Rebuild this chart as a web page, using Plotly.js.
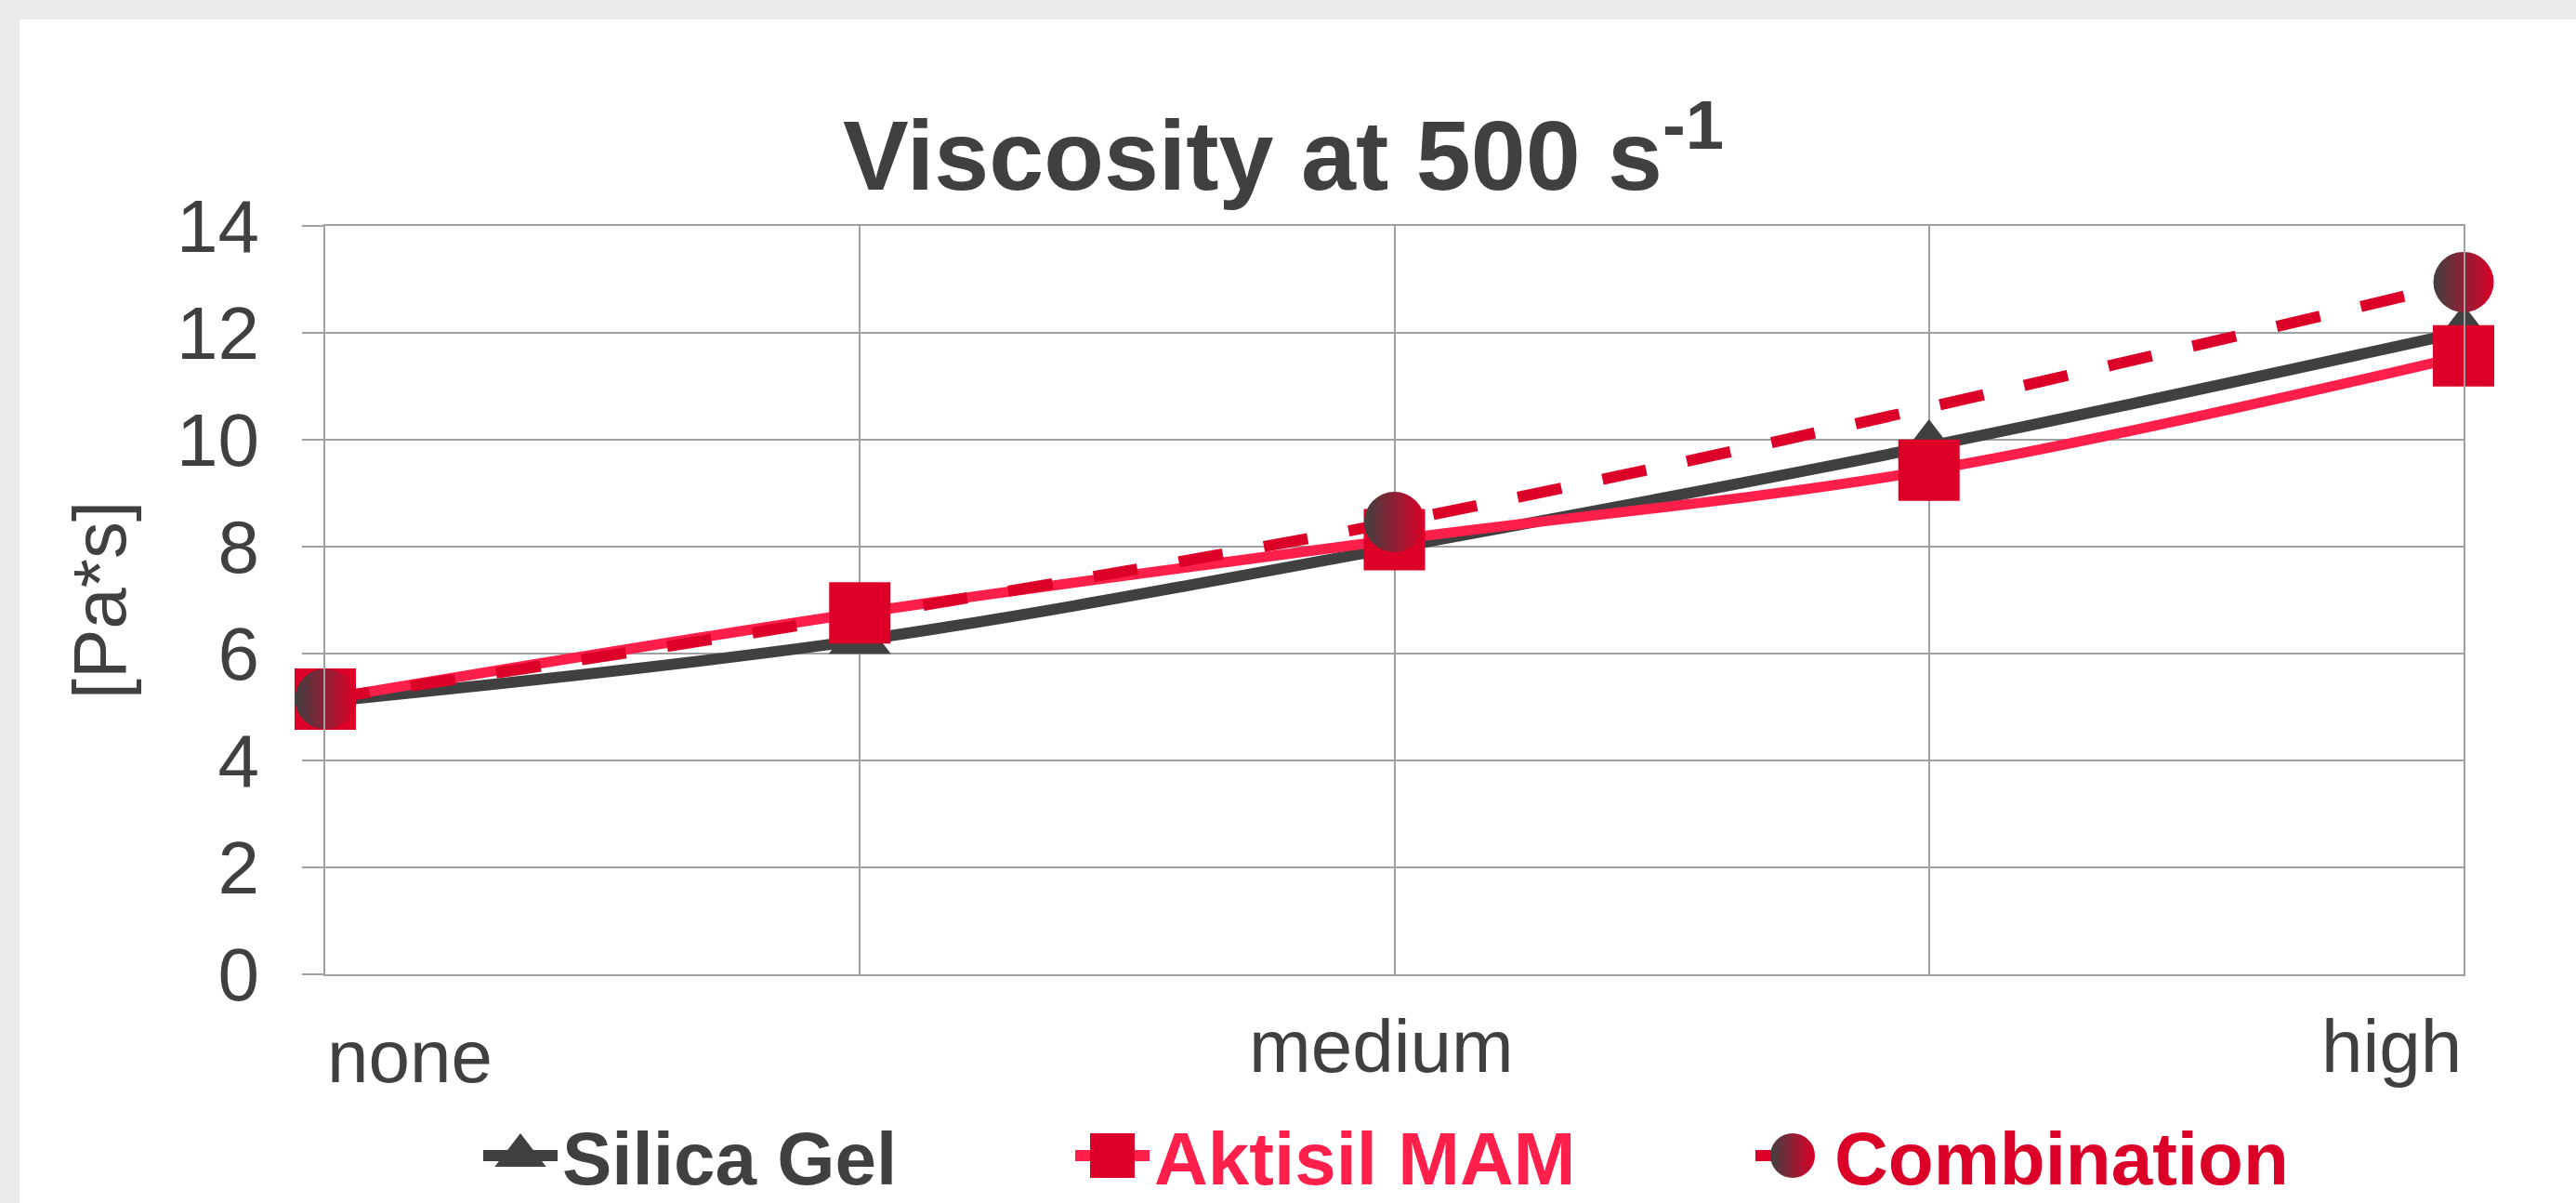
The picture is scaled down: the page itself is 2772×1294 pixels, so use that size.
<!DOCTYPE html>
<html><head><meta charset="utf-8">
<script src="https://cdn.plot.ly/plotly-3.0.1.min.js"></script>
<style>
html,body{margin:0;padding:0;background:#ebebeb;width:2772px;height:1294px;overflow:hidden}
#chart{position:absolute;left:21px;top:21px;width:2751px;height:1273px;background:#fff}
</style></head><body><div id="chart"></div>
<script>
// ---- data ----
const categories = ['none', '', 'medium', '', 'high'];
const xIndex = [0, 1, 2, 3, 4];
const silicaGel = [5.1, 6.25, 7.98, 9.88, 12.02];
const aktisilMAM = [5.15, 6.76, 8.13, 9.43, 11.57];
const combination = [5.15, null, 8.46, null, 12.95];
const yTicks = [0, 2, 4, 6, 8, 10, 12, 14];
const seriesNames = ['Silica Gel', 'Aktisil MAM', 'Combination'];

// ---- styles ----
const FONT = 'Liberation Sans, Arial, sans-serif';
const DARK = '#404040', PINK = '#ff1f4b', RED = '#dc0028', GRID = '#a0a0a0';

const data = [
  {x: xIndex, y: silicaGel, name: seriesNames[0], type: 'scatter', mode: 'lines+markers',
   line: {color: DARK, width: 12, shape: 'spline', smoothing: 1},
   marker: {symbol: 'triangle-up', size: 58, color: DARK},
   cliponaxis: false, legend: 'legend'},
  {x: xIndex, y: aktisilMAM, name: seriesNames[1], type: 'scatter', mode: 'lines+markers',
   line: {color: PINK, width: 11, shape: 'spline', smoothing: 1},
   marker: {symbol: 'square', size: 66, color: RED},
   cliponaxis: false, legend: 'legend2'},
  {x: xIndex, y: combination, name: seriesNames[2], type: 'scatter', mode: 'lines+markers',
   connectgaps: true,
   line: {color: RED, width: 12, shape: 'spline', smoothing: 1, dash: '48px,45px'},
   marker: {symbol: 'circle', size: 65, color: DARK, gradient: {type: 'horizontal', color: RED}},
   cliponaxis: false, legend: 'legend3'}
];

const W = 2751, H = 1273;
function legendAt(px, color) {
  return {orientation: 'h', xref: 'container', yref: 'container', x: px / W, xanchor: 'left',
    y: 1 - 1222 / H, yanchor: 'middle', itemwidth: 80, bgcolor: 'rgba(0,0,0,0)',
    font: {family: FONT, size: 80, weight: 'bold', color: color}, itemclick: false};
}

const xLabelAnnotations = categories.map((c, i) => ({
  x: xIndex[i], y: 0, xref: 'x', yref: 'paper', text: c, showarrow: false,
  xanchor: i === 0 ? 'left' : (i === categories.length - 1 ? 'right' : 'center'),
  yanchor: 'top', yshift: i === 0 ? -42 : -31, xshift: (i === 0 || i === categories.length - 1) ? 0 : -14,
  font: {family: FONT, size: 80, color: DARK}
})).filter(a => a.text !== '');

const layout = {
  width: W, height: H,
  margin: {l: 329, r: 121, t: 222, b: 246, pad: 0},
  paper_bgcolor: '#ffffff', plot_bgcolor: '#ffffff',
  title: {text: 'Viscosity at 500 s<sup>-1</sup>', xref: 'container', yref: 'container',
    x: 1360 / W, xanchor: 'center', y: 1 - 146 / H, yanchor: 'middle',
    font: {family: FONT, size: 106, weight: 'bold', color: DARK}},
  xaxis: {range: [0, 4], tickvals: xIndex, showticklabels: false, showgrid: true,
    gridcolor: GRID, gridwidth: 2, zeroline: false, showline: true, linecolor: GRID, linewidth: 2,
    mirror: true, ticks: '', fixedrange: true},
  yaxis: {range: [0, 14], tickvals: yTicks, showgrid: true, gridcolor: GRID, gridwidth: 2,
    zeroline: false, showline: true, linecolor: GRID, linewidth: 2, mirror: true,
    ticks: 'outside', ticklen: 23, tickwidth: 2, tickcolor: GRID, ticklabelstandoff: 30,
    tickfont: {family: FONT, size: 80, color: DARK}, automargin: false,
    title: {text: '[Pa*s]', standoff: 28, font: {family: FONT, size: 80, color: DARK}}},
  showlegend: true,
  legend: legendAt(494, DARK),
  legend2: legendAt(1131, PINK),
  legend3: legendAt(1863, RED),
  annotations: xLabelAnnotations
};

Plotly.newPlot('chart', data, layout, {staticPlot: true, displayModeBar: false}).then(gd => {
  gd.querySelectorAll('.legendpoints path.scatterpts').forEach(p => {
    const t = p.getAttribute('transform') || '';
    p.setAttribute('transform', t + ' scale(3)');
  });
  gd.querySelectorAll('.legendlines path.js-line').forEach(p => {
    p.style.strokeWidth = '12px';
  });
});
</script></body></html>
